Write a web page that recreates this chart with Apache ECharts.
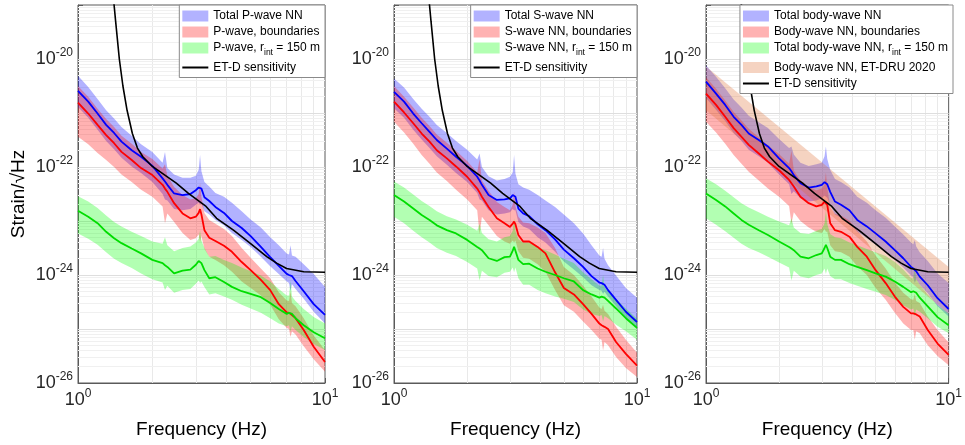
<!DOCTYPE html>
<html><head><meta charset="utf-8">
<script src="https://cdn.jsdelivr.net/npm/echarts@6/dist/echarts.min.js"></script>
<style>html,body{margin:0;padding:0;background:#fff}#c{width:965px;height:445px}</style>
</head><body><div id="c"></div>
<script>
// Frequency samples (Hz) shared by all NN curves
const freq = [1, 1.1, 1.2, 1.3, 1.4, 1.5, 1.65, 1.8, 2.0, 2.2,
  2.25, 2.3, 2.45, 2.65, 2.85, 3.0, 3.08, 3.12, 3.16, 3.25,
  3.4, 3.6, 3.9, 4.2, 4.6, 5.0, 5.5, 6.0, 6.5, 7.0,
  7.15, 7.25, 7.35, 7.6, 8.2, 9.0, 10];

// All strain values below are log10(strain / sqrt(Hz))
// ---- P-wave panel ----
const pTotalLog10 = [-20.59,-20.79,-21.01,-21.22,-21.37,-21.53,-21.69,-21.81,-21.98,-22.21,
  -22.27,-22.33,-22.49,-22.52,-22.50,-22.43,-22.38,-22.35,-22.40,-22.56,
  -22.63,-22.74,-22.85,-23.00,-23.13,-23.28,-23.48,-23.67,-23.83,-23.98,
  -24.00,-24.00,-24.02,-24.11,-24.30,-24.54,-24.74];
const pTotalHiLog10 = [-20.31,-20.52,-20.74,-20.95,-21.10,-21.26,-21.42,-21.58,-21.72,-21.92,
  -21.72,-22.02,-22.14,-22.20,-22.20,-22.16,-22.05,-21.78,-22.08,-22.28,
  -22.36,-22.48,-22.55,-22.66,-22.82,-22.97,-23.12,-23.30,-23.45,-23.60,
  -23.62,-23.45,-23.64,-23.66,-23.80,-23.98,-24.22];
const pTotalLoLog10 = [-20.89,-21.09,-21.31,-21.52,-21.67,-21.83,-21.99,-22.11,-22.28,-22.50,
  -22.60,-22.62,-22.78,-22.80,-22.78,-22.70,-22.66,-22.70,-22.68,-22.82,
  -22.88,-22.98,-23.08,-23.22,-23.35,-23.48,-23.66,-23.84,-23.98,-24.12,
  -24.15,-24.30,-24.17,-24.26,-24.44,-24.68,-24.90];
const pBndLog10 = [-20.81,-21.01,-21.22,-21.41,-21.56,-21.72,-21.87,-22.02,-22.15,-22.33,
  -22.40,-22.46,-22.67,-22.86,-22.95,-22.92,-22.85,-22.78,-22.88,-23.17,
  -23.31,-23.37,-23.46,-23.57,-23.76,-23.91,-24.09,-24.28,-24.54,-24.69,
  -24.70,-24.71,-24.74,-24.80,-25.02,-25.33,-25.61];
const pBndHiLog10 = [-20.50,-20.70,-20.92,-21.11,-21.26,-21.42,-21.57,-21.72,-21.85,-22.03,
  -21.95,-22.16,-22.37,-22.52,-22.60,-22.58,-22.50,-22.30,-22.55,-22.85,
  -22.98,-23.05,-23.15,-23.28,-23.50,-23.68,-23.88,-24.06,-24.32,-24.47,
  -24.48,-24.30,-24.52,-24.58,-24.80,-25.12,-25.39];
const pBndLoLog10 = [-21.44,-21.58,-21.74,-21.87,-22.00,-22.14,-22.28,-22.42,-22.55,-22.73,
  -23.04,-22.86,-23.02,-23.22,-23.35,-23.32,-23.25,-23.40,-23.28,-23.52,
  -23.66,-23.72,-23.82,-23.94,-24.12,-24.24,-24.38,-24.55,-24.82,-24.98,
  -25.00,-25.15,-25.04,-25.10,-25.32,-25.56,-25.79];
const pRintLog10 = [-22.81,-22.92,-23.04,-23.20,-23.32,-23.41,-23.51,-23.60,-23.72,-23.78,
  -23.82,-23.85,-23.97,-23.92,-23.90,-23.81,-23.74,-23.72,-23.78,-23.91,
  -24.06,-24.04,-24.13,-24.22,-24.30,-24.35,-24.41,-24.52,-24.63,-24.72,
  -24.70,-24.69,-24.72,-24.80,-24.93,-25.06,-25.17];
const pRintHiLog10 = [-22.54,-22.64,-22.76,-22.90,-23.02,-23.10,-23.20,-23.28,-23.38,-23.42,
  -23.30,-23.45,-23.56,-23.50,-23.47,-23.40,-23.33,-23.17,-23.36,-23.50,
  -23.66,-23.65,-23.72,-23.78,-23.86,-23.93,-24.01,-24.12,-24.26,-24.38,
  -24.38,-24.10,-24.40,-24.48,-24.63,-24.78,-24.90];
const pRintLoLog10 = [-23.23,-23.33,-23.44,-23.58,-23.70,-23.78,-23.87,-23.97,-24.08,-24.14,
  -24.28,-24.20,-24.33,-24.28,-24.26,-24.16,-24.10,-24.15,-24.12,-24.22,
  -24.36,-24.34,-24.40,-24.46,-24.55,-24.62,-24.70,-24.80,-24.90,-24.95,
  -24.93,-25.05,-24.95,-25.02,-25.15,-25.28,-25.39];

// ---- S-wave panel ----
const sTotalLog10 = [-20.61,-20.79,-21.01,-21.19,-21.35,-21.50,-21.66,-21.81,-21.98,-22.18,
  -22.25,-22.33,-22.52,-22.61,-22.60,-22.58,-22.52,-22.49,-22.55,-22.77,
  -22.86,-22.91,-23.06,-23.17,-23.34,-23.53,-23.69,-23.85,-24.02,-24.14,
  -24.15,-24.16,-24.18,-24.28,-24.46,-24.68,-24.87];
const sTotalHiLog10 = [-20.36,-20.53,-20.74,-20.92,-21.07,-21.22,-21.37,-21.52,-21.68,-21.86,
  -21.75,-22.00,-22.17,-22.25,-22.22,-22.18,-22.10,-21.78,-22.12,-22.32,
  -22.38,-22.42,-22.52,-22.62,-22.74,-22.88,-23.04,-23.23,-23.45,-23.64,
  -23.66,-23.50,-23.70,-23.82,-24.01,-24.24,-24.42];
const sTotalLoLog10 = [-20.91,-21.09,-21.31,-21.49,-21.65,-21.80,-21.96,-22.11,-22.28,-22.48,
  -22.60,-22.62,-22.80,-22.88,-22.86,-22.84,-22.78,-22.80,-22.80,-23.02,
  -23.10,-23.15,-23.30,-23.40,-23.57,-23.75,-23.90,-24.04,-24.19,-24.28,
  -24.29,-24.35,-24.31,-24.40,-24.58,-24.80,-24.99];
const sBndLog10 = [-20.79,-20.99,-21.19,-21.38,-21.53,-21.69,-21.84,-21.99,-22.18,-22.40,
  -22.47,-22.55,-22.74,-22.95,-23.04,-23.11,-23.05,-23.01,-23.06,-23.26,
  -23.38,-23.38,-23.48,-23.60,-23.95,-24.24,-24.36,-24.54,-24.72,-24.90,
  -24.93,-24.94,-24.96,-25.00,-25.24,-25.46,-25.68];
const sBndHiLog10 = [-20.50,-20.70,-20.90,-21.09,-21.24,-21.40,-21.55,-21.70,-21.89,-22.10,
  -21.85,-22.25,-22.44,-22.65,-22.74,-22.80,-22.70,-22.45,-22.72,-22.92,
  -23.03,-23.04,-23.12,-23.22,-23.50,-23.85,-24.00,-24.20,-24.40,-24.60,
  -24.63,-24.55,-24.66,-24.72,-24.96,-25.20,-25.44];
const sBndLoLog10 = [-21.16,-21.36,-21.57,-21.78,-21.94,-22.10,-22.26,-22.42,-22.60,-22.80,
  -23.25,-22.92,-23.08,-23.28,-23.38,-23.42,-23.36,-23.40,-23.36,-23.56,
  -23.68,-23.70,-23.80,-23.94,-24.28,-24.56,-24.68,-24.86,-25.02,-25.18,
  -25.20,-25.40,-25.24,-25.30,-25.52,-25.72,-25.89];
const sRintLog10 = [-22.52,-22.64,-22.77,-22.89,-22.98,-23.08,-23.17,-23.23,-23.35,-23.48,
  -23.51,-23.54,-23.69,-23.74,-23.67,-23.66,-23.55,-23.48,-23.55,-23.72,
  -23.80,-23.79,-23.88,-23.94,-24.00,-24.06,-24.12,-24.28,-24.36,-24.42,
  -24.40,-24.38,-24.42,-24.48,-24.62,-24.80,-24.98];
const sRintHiLog10 = [-22.27,-22.38,-22.51,-22.63,-22.72,-22.82,-22.91,-22.97,-23.07,-23.18,
  -23.05,-23.22,-23.34,-23.38,-23.30,-23.28,-23.18,-22.95,-23.18,-23.34,
  -23.40,-23.40,-23.48,-23.54,-23.62,-23.70,-23.78,-23.95,-24.08,-24.20,
  -24.20,-24.00,-24.22,-24.30,-24.45,-24.62,-24.81];
const sRintLoLog10 = [-22.92,-23.04,-23.18,-23.30,-23.40,-23.50,-23.59,-23.65,-23.76,-23.88,
  -24.10,-23.92,-24.02,-24.04,-23.96,-23.94,-23.86,-23.95,-23.86,-24.06,
  -24.18,-24.18,-24.28,-24.34,-24.40,-24.44,-24.50,-24.64,-24.72,-24.76,
  -24.74,-24.86,-24.76,-24.80,-24.92,-25.04,-25.20];

// ---- Body-wave panel ----
const bTotalLog10 = [-20.42,-20.64,-20.85,-21.07,-21.22,-21.38,-21.50,-21.62,-21.84,-22.02,
  -22.08,-22.15,-22.30,-22.38,-22.36,-22.33,-22.28,-22.27,-22.32,-22.46,
  -22.64,-22.70,-22.80,-22.98,-23.10,-23.23,-23.38,-23.54,-23.69,-23.85,
  -23.88,-23.90,-23.93,-24.03,-24.19,-24.43,-24.63];
const bTotalHiLog10 = [-20.12,-20.33,-20.54,-20.75,-20.90,-21.05,-21.17,-21.28,-21.48,-21.65,
  -21.62,-21.77,-21.92,-21.98,-21.95,-21.92,-21.80,-21.62,-21.85,-22.05,
  -22.22,-22.28,-22.38,-22.55,-22.66,-22.80,-22.94,-23.10,-23.25,-23.40,
  -23.43,-23.35,-23.47,-23.58,-23.74,-23.97,-24.15];
const bTotalLoLog10 = [-20.72,-20.94,-21.15,-21.37,-21.52,-21.68,-21.80,-21.92,-22.14,-22.32,
  -22.50,-22.45,-22.58,-22.64,-22.62,-22.58,-22.53,-22.55,-22.57,-22.71,
  -22.88,-22.94,-23.04,-23.20,-23.32,-23.44,-23.58,-23.72,-23.86,-24.01,
  -24.04,-24.15,-24.08,-24.18,-24.34,-24.58,-24.77];
const bBndLog10 = [-20.64,-20.85,-21.07,-21.28,-21.44,-21.59,-21.75,-21.90,-22.06,-22.24,
  -22.30,-22.36,-22.55,-22.67,-22.73,-22.70,-22.64,-22.61,-22.70,-23.04,
  -23.17,-23.20,-23.29,-23.48,-23.66,-23.91,-24.15,-24.40,-24.59,-24.71,
  -24.71,-24.71,-24.73,-24.77,-25.02,-25.27,-25.48];
const bBndHiLog10 = [-20.34,-20.55,-20.77,-20.98,-21.14,-21.29,-21.45,-21.60,-21.76,-21.94,
  -21.70,-22.06,-22.25,-22.37,-22.43,-22.40,-22.32,-22.10,-22.38,-22.74,
  -22.87,-22.90,-22.99,-23.18,-23.38,-23.64,-23.88,-24.14,-24.33,-24.45,
  -24.46,-24.35,-24.48,-24.52,-24.77,-25.02,-25.25];
const bBndLoLog10 = [-21.16,-21.36,-21.57,-21.78,-21.94,-22.09,-22.25,-22.40,-22.55,-22.72,
  -23.05,-22.84,-23.00,-23.12,-23.20,-23.22,-23.15,-23.20,-23.20,-23.45,
  -23.56,-23.58,-23.66,-23.84,-24.00,-24.24,-24.46,-24.70,-24.90,-25.02,
  -25.02,-25.20,-25.04,-25.08,-25.30,-25.50,-25.67];
const bRintLog10 = [-22.49,-22.61,-22.73,-22.86,-22.98,-23.07,-23.17,-23.26,-23.38,-23.48,
  -23.51,-23.54,-23.66,-23.69,-23.63,-23.60,-23.50,-23.44,-23.50,-23.66,
  -23.72,-23.72,-23.80,-23.85,-23.91,-23.97,-24.03,-24.12,-24.22,-24.32,
  -24.30,-24.28,-24.33,-24.42,-24.58,-24.78,-24.93];
const bRintHiLog10 = [-22.21,-22.32,-22.44,-22.56,-22.67,-22.75,-22.84,-22.92,-23.01,-23.08,
  -22.95,-23.12,-23.22,-23.24,-23.18,-23.15,-23.04,-22.80,-23.05,-23.24,
  -23.30,-23.32,-23.40,-23.45,-23.52,-23.58,-23.65,-23.76,-23.90,-24.06,
  -24.06,-23.85,-24.08,-24.18,-24.36,-24.56,-24.71];
const bRintLoLog10 = [-22.95,-23.07,-23.19,-23.31,-23.42,-23.50,-23.58,-23.66,-23.77,-23.86,
  -24.10,-23.92,-24.03,-24.06,-24.00,-23.97,-23.88,-23.98,-23.88,-24.02,
  -24.08,-24.08,-24.15,-24.20,-24.26,-24.31,-24.37,-24.46,-24.56,-24.64,
  -24.62,-24.76,-24.64,-24.68,-24.80,-24.96,-25.08];
// ET-DRU 2020 body-wave NN band
const druFreq = [1, 10];
const druHiLog10 = [-20.14, -23.85];
const druLoLog10 = [-20.95, -24.72];

// ET-D sensitivity curve
const etdFreq = [1.3, 1.38, 1.42, 1.47, 1.52, 1.58, 1.66, 1.74, 1.83, 2.0, 2.5, 2.8, 3.3, 3.64, 4.26, 4.97, 5.81, 6.37, 6.99, 8.2, 10];
const etdLog10 = [-17.5, -18.7, -19.3, -20.0, -20.5, -20.95, -21.38, -21.65, -21.81, -21.99, -22.30, -22.49, -22.73, -22.95, -23.17, -23.41, -23.66, -23.78, -23.88, -23.94, -23.95];

// Axis ranges (log10 of strain) and labels
const xMin = 1, xMax = 10;
const yMinLog10 = -26, yMaxLog10 = -19;
const legendNames = [
  ['Total P-wave NN', 'P-wave, boundaries', 'P-wave, r_int = 150 m'],
  ['Total S-wave NN', 'S-wave NN, boundaries', 'S-wave NN, r_int = 150 m'],
  ['Total body-wave NN', 'Body-wave NN, boundaries', 'Total body-wave NN, r_int = 150 m']
];
const druName = 'Body-wave NN, ET-DRU 2020';
const etdName = 'ET-D sensitivity';

const FONT = '"Liberation Sans", Arial, Helvetica, sans-serif';
const C_BLUE_BAND = 'rgba(0,0,255,0.3)', C_RED_BAND = 'rgba(255,0,0,0.3)', C_GREEN_BAND = 'rgba(0,255,0,0.3)', C_DRU_BAND = 'rgba(222,110,50,0.3)';
// The log axis works in units of 1e-26 strain/sqrt(Hz) (ECharts' log scale fails on raw 1e-26 values);
// tick labels convert back to the true exponent.
const UNIT_EXP = 26;
const toPlot = e => Math.pow(10, e + UNIT_EXP);
const trueExp = v => Math.round(Math.log10(v)) - UNIT_EXP;

const panelData = [
  {tot: pTotalLog10, totHi: pTotalHiLog10, totLo: pTotalLoLog10, bnd: pBndLog10, bndHi: pBndHiLog10, bndLo: pBndLoLog10, rint: pRintLog10, rintHi: pRintHiLog10, rintLo: pRintLoLog10},
  {tot: sTotalLog10, totHi: sTotalHiLog10, totLo: sTotalLoLog10, bnd: sBndLog10, bndHi: sBndHiLog10, bndLo: sBndLoLog10, rint: sRintLog10, rintHi: sRintHiLog10, rintLo: sRintLoLog10},
  {tot: bTotalLog10, totHi: bTotalHiLog10, totLo: bTotalLoLog10, bnd: bBndLog10, bndHi: bBndHiLog10, bndLo: bBndLoLog10, rint: bRintLog10, rintHi: bRintHiLog10, rintLo: bRintLoLog10}
];
const layout = [
  {left: 78, width: 247, legendRight: 640},
  {left: 394, width: 243, legendRight: 328},
  {left: 706, width: 247, legendRight: 12}
];

function bandSeries(name, gi, fx, lo, hi, color) {
  const data = fx.map((f, i) => [f, toPlot(lo[i]), toPlot(hi[i])]);
  return {
    type: 'custom', name, xAxisIndex: gi, yAxisIndex: gi, z: 3, silent: true, animation: false,
    itemStyle: {color},
    data, encode: {x: 0, y: [1, 2]},
    renderItem(params, api) {
      if (params.dataIndex !== 0) return null;
      const up = data.map(d => api.coord([d[0], d[2]]));
      const dn = data.map(d => api.coord([d[0], d[1]])).reverse();
      return {type: 'polygon', shape: {points: up.concat(dn)}, style: {fill: color}, silent: true};
    }
  };
}
function lineSeries(name, gi, fx, vals, color, width, z) {
  return {
    type: 'line', name, xAxisIndex: gi, yAxisIndex: gi, z: z || 4, silent: true, animation: false,
    symbol: 'none', showSymbol: false, clip: true,
    lineStyle: {color, width}, itemStyle: {color},
    data: fx.map((f, i) => [f, toPlot(vals[i])])
  };
}
function gridLineSeries(gi) {
  const d = [];
  for (let m = 2; m <= 9; m++) d.push({xAxis: m, lineStyle: {color: '#e9e9e9'}});
  for (let e = yMinLog10; e < yMaxLog10; e++) {
    for (let m = 1; m <= 9; m++) {
      if (m === 1 && e === yMinLog10) continue;
      d.push({yAxis: m * Math.pow(10, e + UNIT_EXP), lineStyle: {color: m === 1 ? '#dedede' : '#f0f0f0'}});
    }
  }
  return {
    type: 'line', xAxisIndex: gi, yAxisIndex: gi, data: [], z: 1, silent: true, animation: false,
    markLine: {z: 1, silent: true, symbol: ['none', 'none'], label: {show: false}, animation: false,
      lineStyle: {color: '#ececec', type: 'solid', width: 1}, emphasis: {disabled: true}, data: d}
  };
}

const supRich = {
  b: {fontFamily: FONT, fontSize: 18, color: '#262626', lineHeight: 24},
  s: {fontFamily: FONT, fontSize: 12, color: '#262626', lineHeight: 12, verticalAlign: 'top'}
};
const legendRich = {
  n: {fontFamily: FONT, fontSize: 12, color: '#000', lineHeight: 14},
  m: {fontFamily: FONT, fontSize: 12, color: '#000', lineHeight: 19},
  sub: {fontFamily: FONT, fontSize: 8.5, color: '#000', lineHeight: 8, verticalAlign: 'bottom'}
};
function legendFmt(name) {
  if (name.indexOf('r_int') >= 0) {
    const parts = name.split('r_int');
    return '{m|' + parts[0] + 'r}{sub|int}{m|' + parts[1] + '}';
  }
  return '{n|' + name + '}';
}

const grids = [], xAxes = [], yAxes = [], series = [], legends = [];
layout.forEach((L, gi) => {
  grids.push({left: L.left, top: 5, width: L.width, height: 378, show: true, borderColor: '#5a5a5a', borderWidth: 1, backgroundColor: 'transparent'});
  xAxes.push({
    gridIndex: gi, type: 'log', logBase: 10, min: xMin, max: xMax,
    axisLine: {show: true, lineStyle: {color: '#5a5a5a'}},
    axisTick: {show: true, inside: true, length: 5, lineStyle: {color: '#5a5a5a'}},
    axisLabel: {margin: 5, showMinLabel: true, showMaxLabel: true, rich: supRich,
      formatter: v => '{b|10}{s|' + Math.round(Math.log10(v)) + '}'},
    splitLine: {show: false},
    name: 'Frequency (Hz)', nameLocation: 'middle', nameGap: 37,
    nameTextStyle: {fontFamily: FONT, fontSize: 19, color: '#000'}
  });
  yAxes.push({
    gridIndex: gi, type: 'log', logBase: 10, min: toPlot(yMinLog10), max: toPlot(yMaxLog10), splitNumber: 7,
    axisLine: {show: true, lineStyle: {color: '#5a5a5a'}},
    axisTick: {show: true, inside: true, length: 5, lineStyle: {color: '#5a5a5a'}},
    axisLabel: {margin: 5, showMinLabel: true, showMaxLabel: true, rich: supRich,
      formatter: v => { const e = trueExp(v); return (e % 2 === 0) ? '{b|10}{s|' + e + '}' : ''; }},
    splitLine: {show: false},
    name: gi === 0 ? 'Strain/\u221AHz' : '', nameLocation: 'middle', nameGap: 50,
    nameTextStyle: {fontFamily: FONT, fontSize: 19, color: '#000'}
  });
  const D = panelData[gi];
  const N = legendNames[gi];
  series.push(gridLineSeries(gi));
  series.push(bandSeries(N[0], gi, freq, D.totLo, D.totHi, C_BLUE_BAND));
  series.push(bandSeries(N[1], gi, freq, D.bndLo, D.bndHi, C_RED_BAND));
  series.push(bandSeries(N[2], gi, freq, D.rintLo, D.rintHi, C_GREEN_BAND));
  if (gi === 2) series.push(bandSeries(druName, gi, druFreq, druLoLog10, druHiLog10, C_DRU_BAND));
  series.push(lineSeries(N[0] + ' (mean)', gi, freq, D.tot, '#0000ff', 1.8));
  series.push(lineSeries(N[1] + ' (mean)', gi, freq, D.bnd, '#ff0000', 1.8));
  series.push(lineSeries(N[2] + ' (mean)', gi, freq, D.rint, '#00dd00', 1.8));
  series.push(lineSeries(etdName, gi, etdFreq, etdLog10, '#000000', 1.6, 5));

  const ldata = [
    {name: N[0], icon: 'rect', itemStyle: {color: C_BLUE_BAND}},
    {name: N[1], icon: 'rect', itemStyle: {color: C_RED_BAND}},
    {name: N[2], icon: 'rect', itemStyle: {color: C_GREEN_BAND}}
  ];
  if (gi === 2) ldata.push({name: druName, icon: 'rect', itemStyle: {color: C_DRU_BAND}});
  ldata.push({name: etdName, itemStyle: {opacity: 0}});
  legends.push({
    right: L.legendRight, top: 5, orient: 'vertical', align: 'left',
    backgroundColor: '#fff', borderColor: '#8a8a8a', borderWidth: 1, borderRadius: 0,
    padding: [5, 5, 4, 2], itemGap: 4, itemWidth: 26, itemHeight: 11,
    selectedMode: false, inactiveColor: '#000',
    textStyle: {fontFamily: FONT, fontSize: 12, color: '#000', rich: legendRich},
    formatter: legendFmt, data: ldata, z: 10
  });
});

const chart = echarts.init(document.getElementById('c'), null, {renderer: 'canvas'});
chart.setOption({
  animation: false, backgroundColor: '#fff',
  grid: grids, xAxis: xAxes, yAxis: yAxes, legend: legends, series
});
</script></body></html>
